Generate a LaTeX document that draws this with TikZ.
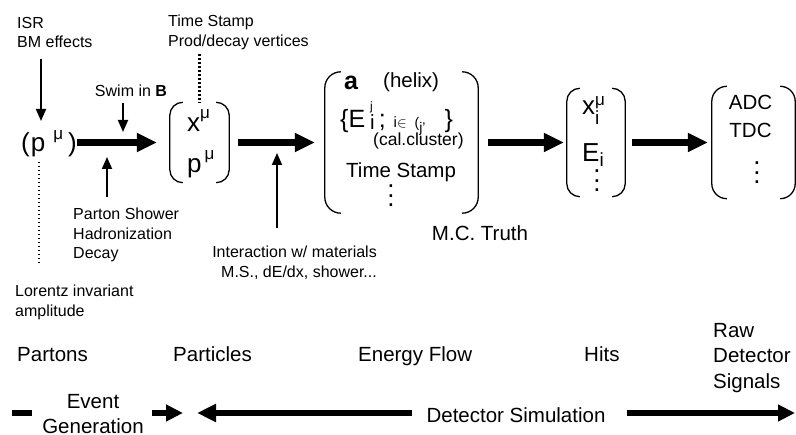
\documentclass[tikz,border=0pt]{standalone}
\usepackage{fontspec}
\setmainfont{Liberation Sans}
\usetikzlibrary{arrows.meta}

\newcommand{\smalltxt}{\fontsize{16}{19.5}\selectfont}
\newcommand{\midtxt}{\fontsize{17}{20}\selectfont}
\newcommand{\bigtxt}{\fontsize{20.5}{25.5}\selectfont}
\newcommand{\hugetxt}{\fontsize{26}{30}\selectfont}
\newcommand{\vdotz}{\vbox{\baselineskip=9.5pt\lineskiplimit=-20pt\hbox{.}\hbox{.}\hbox{.}}}
% round brackets on both sides of a box node
\newcommand{\parens}[2][14pt]{%
  \draw[paren, rounded corners=#1] ([xshift=#1]#2.north west) -- (#2.north west)
    -- (#2.south west) -- ([xshift=#1]#2.south west);
  \draw[paren, rounded corners=#1] ([xshift=-#1]#2.north east) -- (#2.north east)
    -- (#2.south east) -- ([xshift=-#1]#2.south east);}

\tikzset{
  flow/.style={line width=6.5pt, -{Triangle[length=20pt,width=18pt]}},
  span/.style={line width=6.5pt},
  push/.style={line width=1.8pt, -{Triangle[length=12pt,width=10pt]}},
  hint/.style={line width=2.2pt, dash pattern=on 1.8pt off 2.2pt},
  paren/.style={line width=1.3pt},
  vec/.style={inner sep=0pt},
  lbl/.style={inner sep=0pt, font=\smalltxt},
}

\begin{document}
\begin{tikzpicture}[x=1pt, y=-1pt]
  \useasboundingbox (0,0) rectangle (796,435);

  % the chain of states
  \node[vec, anchor=base west] (pmu) at (21,152)
    {\hugetxt (\hspace{1pt}p\hspace{8pt}\raisebox{12pt}{\midtxt μ}\hspace{5pt})};

  \node[vec, minimum width=59pt, minimum height=80pt] (m2) at (199.5,142.5) {};
  \parens[13pt]{m2}
  \node[vec, anchor=base west] (xmu) at (187,132) {\hugetxt x\raisebox{13pt}{\midtxt μ}};
  \node[vec, anchor=base west] (pmutwo) at (187,173)
    {\hugetxt p\hspace{3pt}\raisebox{13pt}{\midtxt μ}};

  \node[vec, minimum width=153pt, minimum height=141pt] (m3) at (401.5,142.5) {};
  \parens[16pt]{m3}
  \node[vec, anchor=base west] (hela) at (344,90) {\fontsize{25}{26}\selectfont\bfseries a};
  \node[vec, anchor=base west] (helix) at (383,88) {\bigtxt (helix)};
  \node[vec, anchor=base west] (ecell) at (340,128)
    {\fontsize{25}{28}\selectfont \{E\hspace{5pt}\rlap{\raisebox{17pt}{\fontsize{12}{14}\selectfont j}}%
     \raisebox{-2pt}{\bigtxt i}\hspace{4pt};\hspace{8pt}{\fontsize{15}{16}\selectfont i$\in$}%
     \hspace{8pt}{\fontsize{14}{14}\selectfont (\raisebox{-5pt}{j'}}\hspace{19pt}\}};
  \node[vec, anchor=base west] (cluster) at (373,146) {\fontsize{17.5}{20}\selectfont (cal.cluster)};
  \node[vec, anchor=base west] (tstamptwo) at (346,177.5) {\bigtxt Time Stamp};
  \node[vec] (dotsthree) at (391,196) {\hugetxt\vdotz};

  \node[vec, minimum width=58pt, minimum height=108pt] (m4) at (596,142.5) {};
  \parens[13pt]{m4}
  \node[vec, anchor=base west] (xi) at (582,115)
    {\hugetxt x\rlap{\raisebox{9pt}{\midtxt μ}}\raisebox{-10pt}{\fontsize{19}{20}\selectfont i}};
  \node[vec, anchor=base west] (ei) at (582,162)
    {\hugetxt E\raisebox{-5pt}{\fontsize{19}{20}\selectfont i}};
  \node[vec] (dotsfour) at (597,181) {\hugetxt\vdotz};

  \node[vec, minimum width=83pt, minimum height=112pt] (m5) at (753.5,142.5) {};
  \parens[15pt]{m5}
  \node[vec, anchor=base] (adc) at (750.5,110) {\bigtxt ADC};
  \node[vec, anchor=base] (tdc) at (750.5,138) {\bigtxt TDC};
  \node[vec] (dotsfive) at (757,173) {\hugetxt\vdotz};

  \draw[flow, shorten >=13pt] (pmu.east |- m2.west) -- (m2.west);
  \draw[flow, shorten <=9pt, shorten >=10pt] (m2.east) -- (m3.west);
  \draw[flow, shorten <=10pt, shorten >=3pt] (m3.east) -- (m4.west);
  \draw[flow, shorten <=7pt, shorten >=4pt] (m4.east) -- (m5.west);

  % side remarks
  \node[lbl, anchor=north west, align=left] (isr) at (17,17) {ISR\\BM effects};
  \node[lbl, anchor=north west, align=left] (tstamp) at (168,15) {Time Stamp\\Prod/decay vertices};
  \node[lbl, anchor=base] (swim) at (131,97) {Swim in \textbf{B}};
  \node[lbl, anchor=north west, align=left] (shower) at (73,208) {Parton Shower\\Hadronization\\Decay};
  \node[lbl, anchor=north west, align=left] (lorentz) at (15,285) {Lorentz invariant\\amplitude};
  \node[lbl, anchor=north east, align=right] (inter) at (377,246)
    {Interaction w/ materials\\M.S., dE/dx, shower...};
  \node[vec, font=\bigtxt, anchor=base] (truth) at (480,241) {M.C. Truth};

  \coordinate (isrtip) at (41,121);
  \coordinate (swimtip) at (123,132);
  \coordinate (showertip) at (107,157);
  \coordinate (intertip) at (277,153);
  \coordinate (lorentzend) at (39,265);
  \draw[push, shorten <=11pt] (isr.south -| isrtip) -- (isrtip);
  \draw[push, shorten <=6pt] (swim.south -| swimtip) -- (swimtip);
  \draw[push, shorten <=11pt] (shower.north -| showertip) -- (showertip);
  \draw[push, shorten <=18pt] (inter.north -| intertip) -- (intertip);
  \draw[hint, shorten <=4pt] (pmu.south -| lorentzend) -- (lorentzend);
  \draw[hint, shorten <=4pt] (tstamp.south -| m2.north) -- (m2.north);

  % stages
  \node[vec, font=\bigtxt, anchor=base west] (partons) at (17,362) {Partons};
  \node[vec, font=\bigtxt, anchor=base west] (particles) at (173,362) {Particles};
  \node[vec, font=\bigtxt, anchor=base west] (eflow) at (358,362) {Energy Flow};
  \node[vec, font=\bigtxt, anchor=base west] (hits) at (584,362) {Hits};
  \node[vec, font=\bigtxt, anchor=north west, align=left] (raw) at (713,323) {Raw\\Detector\\Signals};

  \node[vec, font=\bigtxt, anchor=north, align=center] (evgen) at (93,394) {Event\\Generation};
  \node[vec, font=\bigtxt, anchor=base] (detsim) at (516,423) {Detector Simulation};
  \coordinate (egtail) at (12,413);
  \coordinate (egtip) at (183,413);
  \coordinate (dstail) at (197,413);
  \coordinate (dstip) at (795,413);
  \draw[span, shorten >=10pt] (egtail) -- (egtail -| evgen.west);
  \draw[span, -{Triangle[length=17pt,width=16pt]}, shorten <=8pt] (egtail -| evgen.east) -- (egtip);
  \draw[span, {Triangle[length=19pt,width=17pt]}-, shorten >=14pt] (dstail) -- (dstail -| detsim.west);
  \draw[span, -{Triangle[length=17pt,width=16pt]}, shorten <=21pt] (dstip -| detsim.east) -- (dstip);
\end{tikzpicture}
\end{document}
